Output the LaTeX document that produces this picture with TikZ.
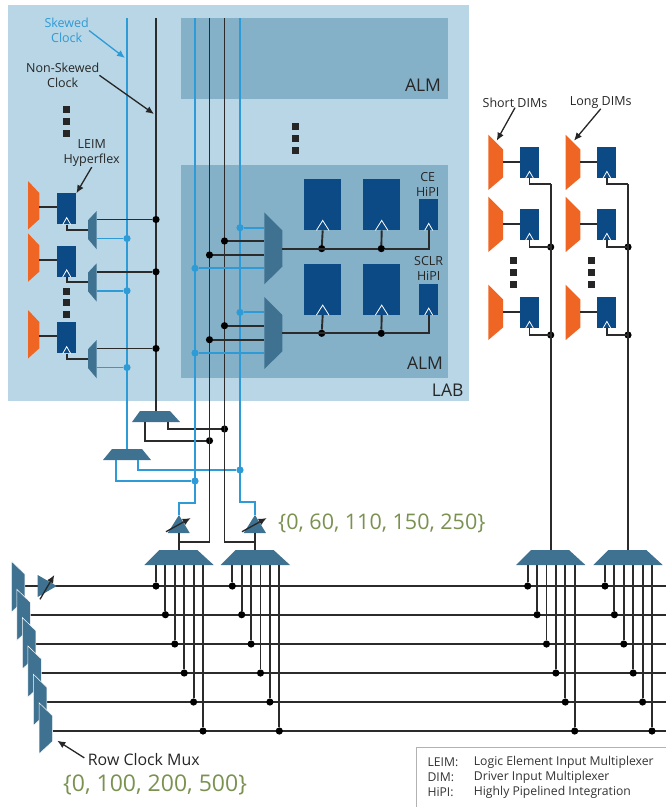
\documentclass[tikz,border=0pt]{standalone}
\usepackage{fontspec}
\setmainfont{Open Sans}
\usetikzlibrary{arrows.meta}
\definecolor{labbg}{HTML}{B8D6E6}
\definecolor{almbg}{HTML}{85B1C8}
\definecolor{muxblue}{HTML}{3F7190}
\definecolor{ffblue}{HTML}{0B4A85}
\definecolor{dimorange}{HTML}{EF6624}
\definecolor{skewblue}{HTML}{2E9BD6}
\definecolor{wireblack}{HTML}{2B2B2B}
\definecolor{valgreen}{HTML}{7A9150}

\begin{document}
\begin{tikzpicture}[x=1pt, y=-1pt,
    wireK/.style={draw=wireblack, line width=1.9pt},
    wireS/.style={draw=skewblue, line width=1.9pt},
    dotK/.style={circle, fill=black, minimum size=7.2pt, inner sep=0pt},
    dotS/.style={circle, fill=skewblue, minimum size=7.2pt, inner sep=0pt},
    ffbox/.style={fill=ffblue, inner sep=0pt, anchor=north west},
    muxfill/.style={fill=muxblue},
    dimfill/.style={fill=dimorange},
    clkmark/.style={draw=white, line width=0.8pt},
    squaredot/.style={fill=black!85, minimum size=7pt, inner sep=0pt},
    ptrK/.style={draw=black!85, line width=1.3pt, -{Latex[length=8pt,width=7pt]}},
    ptrS/.style={draw=skewblue, line width=1.3pt, -{Latex[length=8pt,width=7pt]}},
    lbl/.style={font=\fontsize{12.5}{15}\selectfont, text=black!85, align=center, inner sep=0pt},
    lblbig/.style={font=\fontsize{17.5}{20}\selectfont, text=black!85, inner sep=0pt},
    valtext/.style={text=valgreen, inner sep=0pt, anchor=west},
    legtext/.style={font=\fontsize{12.2}{14}\selectfont, text=black!80, inner sep=0pt, anchor=west}]
  \useasboundingbox (0, 0) rectangle (666, 807);

  % backgrounds
  \fill[labbg] (8, 5) rectangle (469, 401);
  \fill[almbg] (181, 18) rectangle (448, 99);
  \fill[almbg] (181, 165) rectangle (448, 378);

  % vertical clock lines
  \coordinate (busSa) at (127, 18);
  \coordinate (busKa) at (156, 18);
  \coordinate (busSb) at (195, 18);
  \coordinate (busKb) at (209.5, 18);
  \coordinate (busKc) at (224.5, 18);
  \coordinate (busSc) at (240, 18);
  \coordinate (muxUin) at (156, 411);
  \coordinate (muxLin) at (127, 449);
  \draw[wireS] (busSa) -- (muxLin);
  \draw[wireK] (busKa) -- (muxUin);

  % clock muxes under the LAB
  \fill[muxfill] (140, 411) -- (170, 411) -- (180, 422) -- (132, 422) -- cycle;
  \fill[muxfill] (112, 449) -- (142, 449) -- (151, 460) -- (103, 460) -- cycle;
  \coordinate (muxUa) at (145.3, 422);
  \coordinate (muxUb) at (168.3, 422);
  \coordinate (muxLa) at (115.7, 460);
  \coordinate (muxLb) at (138, 460);
  \node[dotK] (dotKb) at (209.5, 440.7) {};
  \node[dotK] (dotKc) at (224.5, 429) {};
  \node[dotS] (dotSb) at (195, 481) {};
  \node[dotS] (dotSc) at (240, 470) {};
  \draw[wireK] (muxUa) |- (dotKb);
  \draw[wireK] (muxUb) |- (dotKc);
  \draw[wireS] (muxLa) |- (dotSb);
  \draw[wireS] (muxLb) |- (dotSc);

  % delay chains above the DIM muxes
  \fill[muxfill] (179, 515) -- (189.7, 533) -- (167.7, 533) -- cycle;
  \fill[muxfill] (255, 515) -- (266, 533) -- (243.7, 533) -- cycle;
  \coordinate (delEin) at (179, 515);
  \coordinate (delFin) at (255, 515);
  \coordinate (delEout) at (179, 533);
  \coordinate (delFout) at (255, 533);
  \coordinate (muxEin) at (179, 550);
  \coordinate (muxFin) at (255, 550);
  \coordinate (joinE) at (179, 542);
  \coordinate (joinF) at (255, 542);
  \draw[wireS] (busSb) -- (195, 503) -| (delEin);
  \draw[wireS] (busSc) -- (240, 502) -| (delFin);
  \draw[wireK] (busKb) |- (joinE);
  \draw[wireK] (busKc) |- (joinF);
  \draw[wireK] (delEout) -- (muxEin);
  \draw[wireK] (delFout) -- (muxFin);
  \coordinate (slashEa) at (166, 531.7);
  \coordinate (slashEb) at (190.7, 518);
  \coordinate (slashFa) at (242, 531.7);
  \coordinate (slashFb) at (266.7, 518);
  \draw[ptrK] (slashEa) -- (slashEb);
  \draw[ptrK] (slashFa) -- (slashFb);

  % LEIM column
  \foreach \rowid/\ytop in {A/181, B/233.3, C/310}{
    \fill[dimfill] (28, \ytop) -- (39.3, \ytop+12) -- (39.3, \ytop+38.3) -- (28, \ytop+48.5) -- cycle;
    \fill[muxfill] (88, \ytop+39.3) -- (96.7, \ytop+30) -- (96.7, \ytop+68.3) -- (88, \ytop+58) -- cycle;
    \node[ffbox, minimum width=19pt, minimum height=31pt] (leim\rowid) at (57, \ytop+12.2) {};
    \coordinate (dimout\rowid) at (39.3, \ytop+26.3);
    \coordinate (leimin\rowid) at (57, \ytop+26.3);
    \coordinate (muxclk\rowid) at (88, \ytop+48.7);
    \coordinate (muxk\rowid) at (96.7, \ytop+38.5);
    \coordinate (muxs\rowid) at (96.7, \ytop+57.5);
    \node[dotK] (tapk\rowid) at (156, \ytop+38.5) {};
    \node[dotS] (taps\rowid) at (127, \ytop+57.5) {};
    \draw[wireK] (dimout\rowid) -- (leimin\rowid);
    \draw[wireK] (leim\rowid.south) |- (muxclk\rowid);
    \draw[wireK] (muxk\rowid) -- (tapk\rowid);
    \draw[wireS] (muxs\rowid) -- (taps\rowid);
    \draw[clkmark] ([xshift=-4pt]leim\rowid.south) -- ([yshift=7pt]leim\rowid.south) -- ([xshift=4pt]leim\rowid.south);
  }

  % ALM input muxes and their registers
  \foreach \almid/\ymux in {P/212.3, Q/297}{
    \coordinate (almin\almid a) at (264.3, \ymux+15.4);
    \coordinate (almin\almid b) at (264.3, \ymux+28.7);
    \coordinate (almin\almid c) at (264.3, \ymux+42.7);
    \coordinate (almin\almid d) at (264.3, \ymux+56);
    \node[dotS] (almtap\almid a) at (240, \ymux+15.4) {};
    \node[dotK] (almtap\almid b) at (224.5, \ymux+28.7) {};
    \node[dotK] (almtap\almid c) at (209.5, \ymux+42.7) {};
    \node[dotS] (almtap\almid d) at (195, \ymux+56) {};
    \draw[wireS] (almtap\almid a) -- (almin\almid a);
    \draw[wireK] (almtap\almid b) -- (almin\almid b);
    \draw[wireK] (almtap\almid c) -- (almin\almid c);
    \draw[wireS] (almtap\almid d) -- (almin\almid d);
    \fill[muxfill] (264.3, \ymux) -- (282.3, \ymux+18) -- (282.3, \ymux+54.4) -- (264.3, \ymux+72) -- cycle;
    \node[ffbox, minimum width=37pt, minimum height=51pt] (ffa\almid) at (304, \ymux-33.3) {};
    \node[ffbox, minimum width=37pt, minimum height=51pt] (ffb\almid) at (363, \ymux-33.3) {};
    \node[ffbox, minimum width=19pt, minimum height=31pt] (ffc\almid) at (419, \ymux-13.3) {};
    \coordinate (almout\almid) at (282.3, \ymux+36.3);
    \node[dotK] (almdota\almid) at (321.7, \ymux+36.3) {};
    \node[dotK] (almdotb\almid) at (381.3, \ymux+36.3) {};
    \draw[wireK] (almout\almid) -- (almdotb\almid) -| (ffc\almid.south);
    \draw[wireK] (almdota\almid) -- (ffa\almid.south);
    \draw[wireK] (almdotb\almid) -- (ffb\almid.south);
    \draw[clkmark] ([xshift=-6.3pt]ffa\almid.south) -- ([yshift=10pt]ffa\almid.south) -- ([xshift=6.3pt]ffa\almid.south);
    \draw[clkmark] ([xshift=-6.3pt]ffb\almid.south) -- ([yshift=10pt]ffb\almid.south) -- ([xshift=6.3pt]ffb\almid.south);
    \draw[clkmark] ([xshift=-4pt]ffc\almid.south) -- ([yshift=7pt]ffc\almid.south) -- ([xshift=4pt]ffc\almid.south);
  }

  % DIM columns on the right
  \foreach \colid/\xd/\xbus in {R/488.3/550.7, S/565.7/628}{
    \node[dotK] (dimdot\colid b) at (\xbus, 247) {};
    \node[dotK] (dimdot\colid c) at (\xbus, 335) {};
    \coordinate (dimtop\colid) at (\xbus, 184.3);
    \coordinate (dimbus\colid) at (\xbus, 550.3);
    \draw[wireK] (dimtop\colid) -- (dimbus\colid);
    \foreach \rowid/\ytop/\yclk in {a/134.7/184.3, b/196.7/247, c/284.7/335}{
      \fill[dimfill] (\xd, \ytop) -- (\xd+14.7, \ytop+14.7) -- (\xd+14.7, \ytop+42.8) -- (\xd, \ytop+55.3) -- cycle;
      \node[ffbox, minimum width=19pt, minimum height=31pt] (dimff\colid\rowid) at (\xd+31.5, \ytop+12.3) {};
      \coordinate (dimout\colid\rowid) at (\xd+14.7, \ytop+27.5);
      \coordinate (dimin\colid\rowid) at (\xd+31.5, \ytop+27.5);
      \coordinate (dimclk\colid\rowid) at (\xbus, \yclk);
      \draw[wireK] (dimout\colid\rowid) -- (dimin\colid\rowid);
      \draw[wireK] (dimff\colid\rowid.south) |- (dimclk\colid\rowid);
      \draw[clkmark] ([xshift=-4pt]dimff\colid\rowid.south) -- ([yshift=7pt]dimff\colid\rowid.south) -- ([xshift=4pt]dimff\colid\rowid.south);
    }
  }

  % row clock lines and muxes
  \foreach \rowid/\xl/\yt/\yrow in {0/11.3/561/586, 1/16.8/589.3/614.7, 2/22.4/617.7/644, 3/27.9/646/673, 4/33.4/674.3/702, 5/39/702.7/731}{
    \coordinate (rowin\rowid) at (\xl+13.5, \yrow);
    \coordinate (rowend\rowid) at (666, \yrow);
    \draw[wireK] (rowin\rowid) -- (rowend\rowid);
    \fill[muxfill, draw=white, line width=0.5pt] (\xl, \yt) -- (\xl+13.5, \yt+13) -- (\xl+13.5, \yt+38.7) -- (\xl, \yt+51.3) -- cycle;
  }
  \fill[muxfill] (37.7, 575) -- (56.7, 586) -- (37.7, 597) -- cycle;
  \coordinate (slashRa) at (40, 599.3);
  \coordinate (slashRb) at (54.3, 575);
  \draw[ptrK] (slashRa) -- (slashRb);

  % the four DIM muxes and their taps
  \foreach \muxid/\xa in {E/156, F/232.3, G/527.7, H/605}{
    \foreach \tapid/\yrow in {0/586, 1/614.7, 2/644, 3/673, 4/702, 5/731}{
      \coordinate (pin\muxid\tapid) at (\xa+\tapid*9.4, 565);
      \node[dotK] (tap\muxid\tapid) at (\xa+\tapid*9.4, \yrow) {};
      \draw[wireK] (pin\muxid\tapid) -- (tap\muxid\tapid);
    }
    \fill[muxfill] (\xa+3.3, 550) -- (\xa+41.3, 550) -- (\xa+57.7, 565) -- (\xa-11.7, 565) -- cycle;
  }

  % ellipsis marks
  \foreach \xs/\ys in {66.5/109.5, 66.5/121.5, 66.5/133.5, 66.5/291.5, 66.5/302.5, 66.5/314.5,
      295.5/126.5, 295.5/138.5, 295.5/150.5, 513.5/260.5, 513.5/272.5, 513.5/284.5,
      591.5/260.5, 591.5/272.5, 591.5/284.5}{
    \node[squaredot] at (\xs, \ys) {};
  }

  % labels and pointers
  \node[lbl, text=skewblue] (skewedlbl) at (66.7, 30.5) {Skewed\\Clock};
  \node[lbl] (nonskewedlbl) at (62.7, 75.3) {Non-Skewed\\Clock};
  \node[lbl] (leimlbl) at (91.7, 153.5) {LEIM\\Hyperflex};
  \coordinate (skewedtip) at (125, 58);
  \coordinate (nonskewedtip) at (154, 114);
  \draw[ptrS] (skewedlbl.east) -- (skewedtip);
  \draw[ptrK] (nonskewedlbl.east) -- (nonskewedtip);
  \draw[ptrK] (leimlbl.south) -- (leimA.north east);

  \node[lbl] (shortlbl) at (515, 102.7) {Short DIMs};
  \node[lbl] (longlbl) at (600.7, 102.7) {Long DIMs};
  \coordinate (shorttip) at (496.7, 140.7);
  \coordinate (longtip) at (574, 140.7);
  \draw[ptrK] (shortlbl.south) -- (shorttip);
  \draw[ptrK] (longlbl.south) -- (longtip);

  \node[lbl] (celbl) at (427.7, 184.2) {CE\\HiPI};
  \node[lbl] (sclrlbl) at (428.7, 268.4) {SCLR\\HiPI};
  \node[lblbig] (almtoplbl) at (423, 85) {ALM};
  \node[lblbig] (almbotlbl) at (425, 363) {ALM};
  \node[lblbig] (lablbl) at (447.7, 390) {LAB};

  \node[valtext, font=\fontsize{21.5}{25}\selectfont] (delayvals) at (278, 523) {\{0, 60, 110, 150, 250\}};
  \node[valtext, font=\fontsize{23}{27}\selectfont] (rowvals) at (63, 785) {\{0, 100, 200, 500\}};
  \node[lblbig, font=\fontsize{15.9}{19}\selectfont, anchor=west] (rowmuxlbl) at (87.7, 760) {Row Clock Mux};
  \coordinate (rowmuxtip) at (57.3, 740.7);
  \draw[ptrK, shorten <=4pt] (rowmuxlbl.west) -- (rowmuxtip);

  % legend
  \draw[gray!60, line width=0.8pt] (416.3, 807) -- (416.3, 747.7) -- (666, 747.7);
  \node[legtext] (legkeyA) at (427.3, 762.7) {LEIM:};
  \node[legtext] (legkeyB) at (427.3, 777.7) {DIM:};
  \node[legtext] (legkeyC) at (427.3, 792) {HiPI:};
  \node[legtext] (legvalA) at (473.7, 762.7) {Logic Element Input Multiplexer};
  \node[legtext] (legvalB) at (473.7, 777.7) {Driver Input Multiplexer};
  \node[legtext] (legvalC) at (473.7, 792) {Highly Pipelined Integration};
\end{tikzpicture}
\end{document}
